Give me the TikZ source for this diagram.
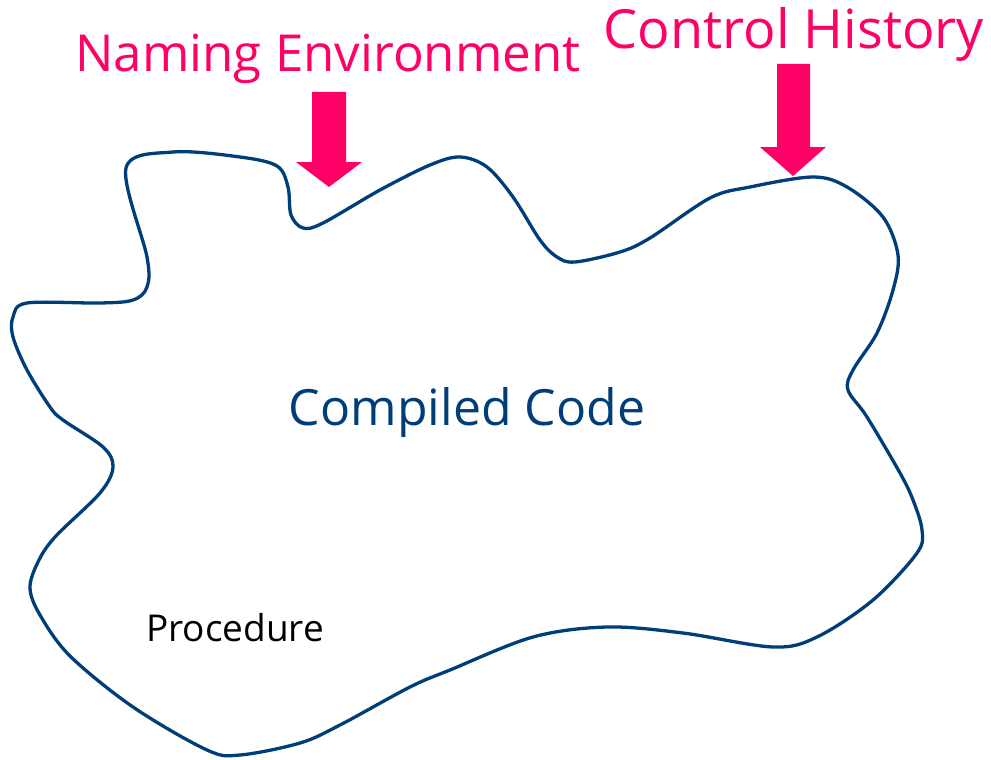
\documentclass[tikz,border=0pt]{standalone}
\usepackage{fontspec}
\setmainfont{Open Sans}
\definecolor{hotpink}{RGB}{255,0,102}
\definecolor{navy}{RGB}{0,62,122}
\begin{document}
\begin{tikzpicture}[x=1pt,y=-1pt,
  blob/.style={draw=navy,line width=3.3pt,smooth cycle,tension=0.55},
  bigarrow/.style={fill=hotpink,draw=none},
  pinklabel/.style={text=hotpink,anchor=base,inner sep=0pt},
  mainlabel/.style={text=navy,font=\fontsize{50}{56}\selectfont,anchor=base,inner sep=0pt},
  smalllabel/.style={text=black,font=\fontsize{37}{42}\selectfont,anchor=base,inner sep=0pt}]
\useasboundingbox (0,0) rectangle (991,760);
\draw[blob] plot coordinates {
 (126,168) (173,152) (240,157) (277,166) (288,187) (291,215) (303,228) (323,223)
 (380,190) (430,165) (460,157) (487,167) (513,197) (540,240) (557,257) (575,262)
 (620,252) (650,238) (710,198) (750,187) (813,177) (847,187) (883,217) (898,255)
 (893,290) (877,333) (853,370) (848,390) (867,417) (900,473) (913,500) (922,530)
 (917,553) (873,600) (817,637) (773,647) (683,633) (607,627) (533,637) (450,670)
 (410,687) (340,725) (300,743) (240,755) (207,750) (133,707) (70,656) (40,615)
 (30,588) (38,562) (55,537) (100,493) (113,467) (103,447) (63,420) (50,407) (27,370)
 (13,337) (13,317) (27,303) (100,303) (133,300) (147,287) (147,257)};
% arrows
\fill[bigarrow] (312,92) -- (346,92) -- (346,162) -- (362,162) -- (329,187) -- (296,162) -- (312,162) -- cycle;
\fill[bigarrow] (777,64) -- (810,64) -- (810,147) -- (826,147) -- (793,176) -- (760,147) -- (777,147) -- cycle;
% labels
\node[pinklabel,font=\fontsize{51}{56}\selectfont] (naming) at (328,71) {Naming Environment};
\node[pinklabel,font=\fontsize{54}{60}\selectfont] (control) at (794,49) {Control History};
\node[mainlabel] (code) at (467,425) {Compiled Code};
\node[smalllabel] (proc) at (235,641) {Procedure};
\end{tikzpicture}
\end{document}
